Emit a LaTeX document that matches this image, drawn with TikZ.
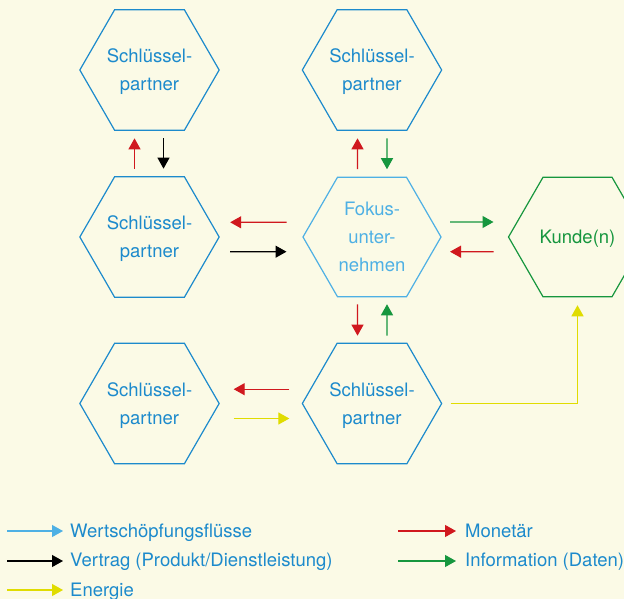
\documentclass[tikz,border=0pt]{standalone}
\usepackage{fontspec}
\setmainfont{TeX Gyre Heros}
\usetikzlibrary{shapes.geometric,arrows.meta}

\definecolor{bgcream}{RGB}{251,250,230}
\definecolor{partnerblue}{RGB}{28,138,204}
\definecolor{focusblue}{RGB}{78,176,228}
\definecolor{flowred}{RGB}{208,24,30}
\definecolor{flowgreen}{RGB}{22,150,62}
\definecolor{flowyellow}{RGB}{224,220,0}

\tikzset{
  hex/.style={regular polygon, regular polygon sides=6, minimum size=138pt,
    inner sep=0pt, outer sep=0pt, draw=partnerblue, line width=1.2pt,
    text=partnerblue, align=center, text depth=0pt,
    font=\fontsize{18.5}{28}\selectfont},
  focushex/.style={hex, draw=focusblue, text=focusblue},
  customerhex/.style={hex, draw=flowgreen, text=flowgreen},
  flow/.style={line width=1.2pt, -{Triangle[width=12pt,length=11pt]}},
  money/.style={flow, draw=flowred},
  contract/.style={flow, draw=black},
  info/.style={flow, draw=flowgreen},
  energy/.style={flow, draw=flowyellow},
  value/.style={flow, draw=focusblue},
  legtext/.style={anchor=base west, inner sep=0pt, text=partnerblue,
    font=\fontsize{18.5}{22}\selectfont},
}

\begin{document}
\begin{tikzpicture}[x=1pt, y=-1pt]
  \fill[bgcream] (0,0) rectangle (624,599);
  \useasboundingbox (0,0) rectangle (624,599);
  \clip (0,0) rectangle (624,599);

  % partners, focal company and customer
  \node[hex] (p1) at (149.5,70) {Schlüssel-\\partner};
  \node[hex] (p2) at (372,70) {Schlüssel-\\partner};
  \node[hex] (p3) at (149.5,237) {Schlüssel-\\partner};
  \node[focushex] (fokus) at (372,237) {Fokus-\\unter-\\nehmen};
  \node[customerhex] (kunde) at (577.5,237) {Kunde(n)};
  \node[hex] (p4) at (149.5,403.5) {Schlüssel-\\partner};
  \node[hex] (p5) at (372,403.5) {Schlüssel-\\partner};

  % vertical exchanges
  \draw[money, shorten <=8pt, shorten >=8pt]
    ([xshift=-15pt]p3.north) -- ([xshift=-15pt]p1.south);
  \draw[contract, shorten <=8pt, shorten >=8pt]
    ([xshift=14pt]p1.south) -- ([xshift=14pt]p3.north);
  \draw[money, shorten <=8pt, shorten >=8pt]
    ([xshift=-14.5pt]fokus.north) -- ([xshift=-14.5pt]p2.south);
  \draw[info, shorten <=8pt, shorten >=8pt]
    ([xshift=15pt]p2.south) -- ([xshift=15pt]fokus.north);
  \draw[money, shorten <=7.5pt, shorten >=7.5pt]
    ([xshift=-14.5pt]fokus.south) -- ([xshift=-14.5pt]p5.north);
  \draw[info, shorten <=7.5pt, shorten >=7.5pt]
    ([xshift=15pt]p5.north) -- ([xshift=15pt]fokus.south);

  % horizontal exchanges (upper arrow points left, lower points right, except towards the customer)
  \draw[money, shorten <=16.5pt, shorten >=11pt]
    ([yshift=14.7pt]fokus.west) -- ([yshift=14.7pt]p3.east);
  \draw[contract, shorten <=11pt, shorten >=16.5pt]
    ([yshift=-14.7pt]p3.east) -- ([yshift=-14.7pt]fokus.west);
  \draw[info, shorten <=9pt, shorten >=15pt]
    ([yshift=15pt]fokus.east) -- ([yshift=15pt]kunde.west);
  \draw[money, shorten <=15pt, shorten >=9pt]
    ([yshift=-14.7pt]kunde.west) -- ([yshift=-14.7pt]fokus.east);
  \draw[money, shorten <=13pt, shorten >=14.5pt]
    ([yshift=14.3pt]p5.west) -- ([yshift=14.3pt]p4.east);
  \draw[energy, shorten <=14.5pt, shorten >=13pt]
    ([yshift=-15pt]p4.east) -- ([yshift=-15pt]p5.west);
  \draw[energy, shorten <=9pt, shorten >=8.5pt]
    (p5.east) -| (kunde.south);

  % legend
  \coordinate (lg1) at (7,531);
  \coordinate (lg2) at (7,561);
  \coordinate (lg3) at (7,590);
  \coordinate (lg4) at (398,531);
  \coordinate (lg5) at (398,561);
  \node[legtext] (lt1) at (70,537) {Wertschöpfungsflüsse};
  \node[legtext] (lt2) at (70,566.7) {Vertrag (Produkt/Dienstleistung)};
  \node[legtext] (lt3) at (70,596) {Energie};
  \node[legtext] (lt4) at (465,537) {Monetär};
  \node[legtext] (lt5) at (465,566.7) {Information (Daten)};
  \draw[value, shorten >=7pt] (lg1) -- (lg1 -| lt1.west);
  \draw[contract, shorten >=7pt] (lg2) -- (lg2 -| lt2.west);
  \draw[energy, shorten >=7pt] (lg3) -- (lg3 -| lt3.west);
  \draw[money, shorten >=9pt] (lg4) -- (lg4 -| lt4.west);
  \draw[info, shorten >=9pt] (lg5) -- (lg5 -| lt5.west);
\end{tikzpicture}
\end{document}
